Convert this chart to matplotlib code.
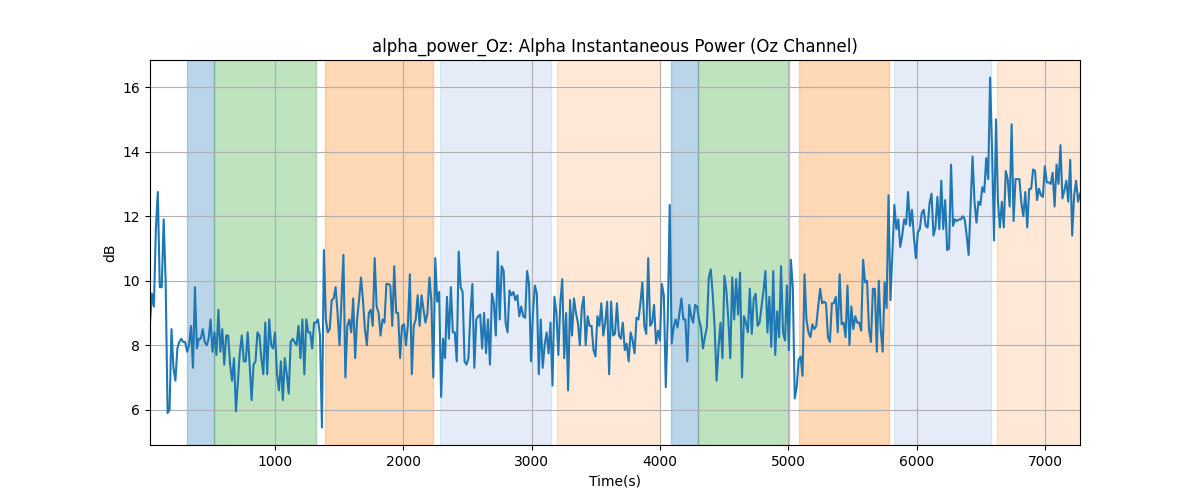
import numpy as np
import matplotlib
matplotlib.use("Agg")
from matplotlib import pyplot as plt

seg_a = [8.7, 9.6, 9.2, 11.6, 12.75, 9.8, 9.8, 11.9, 10.0, 5.9,
         6.0, 8.5, 7.3, 6.9, 7.9, 8.1, 8.2, 8.1, 8.1, 7.8,
         8.0, 8.6, 7.3, 9.8, 7.9, 8.2, 8.2, 8.5, 8.1, 8.0,
         8.2, 8.8, 7.8, 8.4, 7.7, 9.1, 7.8, 8.5, 7.4, 8.3,
         8.3, 7.4, 6.9, 7.6, 5.95, 6.9, 7.8, 8.3, 7.5, 7.5,
         8.4, 7.4, 6.3, 7.4, 7.5, 8.4, 8.3, 7.6, 7.1, 8.7]
seg_b = [7.1, 8.8, 8.0, 7.9, 8.4, 7.1, 6.6, 7.5, 6.3, 7.6,
         7.1, 6.5, 8.1, 8.2, 8.1, 8.0, 8.6, 7.6, 8.8, 7.1,
         8.8, 8.4, 8.4, 7.9, 8.7, 8.7, 8.8, 8.3, 5.45, 10.95,
         8.8, 8.4, 8.5, 9.4, 9.45, 9.8, 9.0, 8.0, 9.4, 10.8,
         7.0, 8.6, 8.8, 8.4, 9.45, 7.6, 8.8, 9.4, 10.1, 9.4,
         8.5, 8.0, 9.0, 9.1, 8.6, 10.7, 9.2, 9.0, 8.3, 8.8]
seg_c = [8.7, 9.9, 9.9, 9.85, 8.6, 10.45, 9.0, 9.0, 7.6, 8.6,
         8.65, 8.0, 8.65, 10.2, 7.1, 8.6, 8.8, 9.55, 8.6, 9.55,
         9.1, 8.7, 9.0, 10.1, 9.4, 7.0, 10.7, 9.35, 9.65, 6.4,
         8.2, 7.6, 9.5, 8.2, 9.8, 8.4, 8.4, 7.5, 10.9, 9.8,
         9.65, 7.5, 7.4, 7.6, 9.0, 9.9, 7.3, 8.8, 8.9, 8.95,
         7.9, 9.0, 7.75, 8.8, 7.4, 9.6, 9.3, 8.3]
seg_d = [10.9, 8.8, 10.45, 10.3, 8.7, 8.4, 9.7, 9.55, 9.65, 9.4,
         9.55, 8.9, 9.2, 8.9, 8.85, 10.3, 9.9, 7.5, 9.0, 9.85,
         9.6, 7.1, 8.8, 7.3, 8.0, 8.4, 7.75, 8.7, 6.75, 9.5,
         9.0, 7.7, 9.3, 10.05, 7.6, 9.0, 6.6, 9.4, 8.3, 9.45,
         9.0, 8.7, 8.0, 9.15, 9.5, 8.0, 8.9, 8.6, 8.6, 7.85,
         7.65, 8.9, 8.6, 9.3, 8.3, 8.7, 9.35, 7.1, 9.35, 8.3]
seg_e = [8.35, 9.3, 8.3, 8.2, 8.7, 7.85, 8.05, 7.5, 8.4, 8.15,
         7.75, 8.85, 8.8, 9.3, 9.95, 8.6, 8.35, 10.7, 8.6, 8.7,
         9.25, 8.05, 8.45, 8.15, 9.9, 9.55, 6.7, 8.8, 12.35, 8.05,
         8.55, 8.8, 8.55, 9.0, 9.45, 8.8, 8.8, 7.5, 9.25, 8.9,
         8.7, 9.25, 9.2, 8.8, 8.55, 7.9, 8.25, 8.55, 10.1, 10.35,
         9.6, 8.55, 6.9, 7.95, 8.7, 7.6, 10.15, 9.7]
seg_f = [8.8, 7.6, 10.1, 8.8, 10.05, 8.95, 10.25, 7.0, 8.9, 8.7,
         8.4, 9.75, 8.35, 9.45, 9.6, 8.6, 8.7, 9.2, 9.7, 10.3,
         8.4, 9.5, 7.95, 10.3, 7.7, 9.05, 8.25, 10.45, 8.4, 8.15,
         9.85, 7.85, 10.65, 9.8, 6.35, 6.7, 7.55, 7.65, 7.05, 10.2,
         8.8, 8.4, 8.25, 8.65, 8.5, 8.6, 9.2, 9.75, 9.3, 9.35,
         9.3, 8.25, 8.1, 9.3, 9.3, 9.5, 8.4, 10.2, 8.65, 8.7, 8.25]
seg_g = [9.85, 8.0, 9.2, 8.5, 8.9, 8.7, 8.7, 8.45, 10.65, 9.95,
         10.0, 8.5, 8.1, 9.75, 9.75, 7.8, 10.0, 8.5, 7.8, 9.95,
         9.15, 12.65, 9.4, 10.9, 12.35, 11.6, 11.9, 11.05, 11.4, 11.9,
         11.75, 12.75, 11.7, 12.2, 11.35, 10.7, 11.5, 11.6, 12.1, 12.2,
         11.7, 11.65, 12.4, 12.7, 11.4, 11.65, 12.6, 11.6, 13.1, 11.6,
         12.5, 10.95, 11.0, 13.6, 11.7, 11.9, 11.85, 11.9, 11.9, 12.0,
         11.9, 11.4, 10.8, 12.3, 13.85, 12.45, 11.8, 12.45, 12.35, 12.9,
         12.75, 13.8, 13.15, 16.3, 14.05, 11.25, 15.0, 12.45, 11.65, 12.45,
         11.65, 13.4, 13.15, 12.3, 14.85, 11.85, 13.15, 13.15, 13.15, 12.4,
         12.0, 12.75, 11.65, 12.85, 12.85, 13.45, 13.4, 12.5, 12.85, 12.65,
         12.6, 13.55, 13.05, 13.05, 13.0, 13.35, 12.3, 13.6, 13.0, 14.2,
         12.55, 12.8, 13.1, 12.45, 13.75, 11.4, 12.65, 13.1, 12.45, 12.7]

power_db = np.array(seg_a + seg_b + seg_c + seg_d + seg_e + seg_f + seg_g)
t_start = 26
t_end = 7273
time_s = np.linspace(t_start, t_end, len(power_db))

# condition blocks
span_starts = [312, 523, 1387, 2283, 3200, 4082, 4294, 5086, 5826, 6626]
span_ends = [523, 1322, 2228, 3153, 4004, 4294, 5006, 5787, 6582, 7300]
span_colors = ['tab:blue', 'tab:green', 'tab:orange', '#a9c0e6', 'tab:orange',
               'tab:blue', 'tab:green', 'tab:orange', '#a9c0e6', 'tab:orange']
span_alphas = [0.3, 0.3, 0.3, 0.3, 0.17, 0.3, 0.3, 0.3, 0.3, 0.17]

fig, ax = plt.subplots(figsize=(12, 5), dpi=100)
for s, e, c, a in zip(span_starts, span_ends, span_colors, span_alphas):
    ax.axvspan(s, e, color=c, alpha=a)
ax.plot(time_s, power_db, color='tab:blue', linewidth=1.5)
ax.set_xlim(time_s[0], time_s[-1])
ax.set_title("alpha_power_Oz: Alpha Instantaneous Power (Oz Channel)")
ax.set_xlabel("Time(s)")
ax.set_ylabel("dB")
ax.grid(True)
fig.savefig("out.png")
